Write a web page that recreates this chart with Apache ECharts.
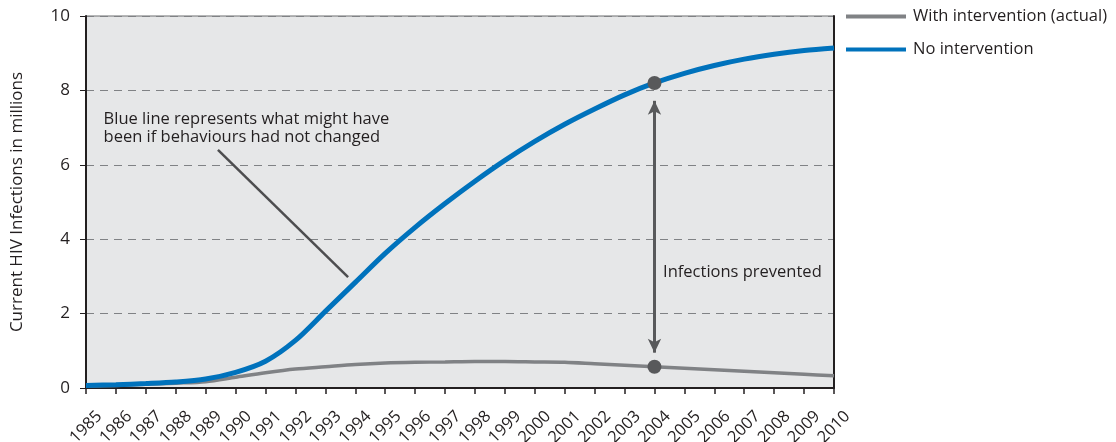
<!DOCTYPE html>
<html><head><meta charset="utf-8">
<script src="https://cdn.jsdelivr.net/npm/echarts@6/dist/echarts.min.js"></script>
<style>html,body{margin:0;padding:0;background:#fff}#c{width:1116px;height:442px}</style>
</head><body><div id="c"></div>
<script>
const years = [1985,1986,1987,1988,1989,1990,1991,1992,1993,1994,1995,1996,1997,1998,1999,2000,2001,2002,2003,2004,2005,2006,2007,2008,2009,2010];
const withIntervention = [0.05,0.07,0.1,0.13,0.17,0.29,0.41,0.51,0.57,0.63,0.67,0.69,0.7,0.71,0.71,0.7,0.69,0.65,0.61,0.57,0.53,0.49,0.45,0.41,0.37,0.33];
const noIntervention = [0.07,0.09,0.12,0.16,0.24,0.42,0.72,1.28,2.06,2.84,3.62,4.32,4.96,5.56,6.12,6.63,7.09,7.5,7.88,8.2,8.46,8.67,8.84,8.97,9.07,9.14];
const yTicks = [0,2,4,6,8,10];
const seriesNames = ['With intervention (actual)','No intervention'];
const noteText = 'Blue line represents what might have\nbeen if behaviours had not changed';
const arrowText = 'Infections prevented';
const arrowYear = 2004;
const leaderFrom = [1989.41, 6.4];
const leaderTo = [1993.76, 2.98];
const arrowEnds = [0.95, 7.72];

const FONT = 'Open Sans';
const ink = '#231f20';
const chart = echarts.init(document.getElementById('c'));
const idx = years.indexOf(arrowYear);
chart.setOption({
  animation: false,
  textStyle: {fontFamily: FONT},
  grid: {left: 86, right: 282, top: 16, bottom: 54, outerBoundsMode: 'none', containLabel: false, show: true, backgroundColor: '#e6e7e8', borderColor: '#6d6e71', borderWidth: 1},
  legend: {
    orient: 'vertical', left: 846, top: 6, itemWidth: 60, itemHeight: 4, itemGap: 12,
    icon: 'rect', padding: [0,0,0,0],
    textStyle: {fontFamily: FONT, fontSize: 16.5, color: ink, lineHeight: 21, padding: [0,0,0,2]},
    data: seriesNames
  },
  xAxis: {
    type: 'value', min: years[0], max: years[years.length-1], interval: 1,
    axisLine: {lineStyle: {color: ink, width: 2}},
    axisTick: {show: true, length: 6, lineStyle: {color: ink, width: 1.5}},
    axisLabel: {rotate: 45, fontSize: 16.5, color: ink, margin: 39, align: 'center', verticalAlign: 'middle', formatter: v => String(v)},
    splitLine: {show: false}
  },
  yAxis: [{
    type: 'value', min: yTicks[0], max: yTicks[yTicks.length-1], interval: 2,
    name: 'Current HIV Infections in millions', nameLocation: 'middle', nameGap: 60,
    nameTextStyle: {fontSize: 17, color: ink},
    axisLine: {show: true, lineStyle: {color: ink, width: 2}},
    axisTick: {show: true, length: 6, lineStyle: {color: ink, width: 1}},
    axisLabel: {fontSize: 17, color: ink, margin: 16},
    splitLine: {show: true, lineStyle: {color: '#808285', type: [8,6], width: 1}}
  },{
    type: 'value', min: yTicks[0], max: yTicks[yTicks.length-1], interval: 2, position: 'right',
    axisLine: {show: true, lineStyle: {color: ink, width: 2}},
    axisTick: {show: false}, axisLabel: {show: false}, splitLine: {show: false}
  }],
  series: [{
    name: seriesNames[0], type: 'line', smooth: 0.3, showSymbol: false,
    data: years.map((y,i) => [y, withIntervention[i]]),
    itemStyle: {color: '#808285'}, lineStyle: {color: '#808285', width: 3.5}, z: 3,
    markPoint: {
      symbol: 'circle', symbolSize: 14, itemStyle: {color: '#58595b'}, label: {show: false},
      data: [{coord: [arrowYear, withIntervention[idx]]}, {coord: [arrowYear, noIntervention[idx]]}]
    }
  },{
    name: seriesNames[1], type: 'line', smooth: 0.3, showSymbol: false,
    data: years.map((y,i) => [y, noIntervention[i]]),
    itemStyle: {color: '#0072bc'}, lineStyle: {color: '#0072bc', width: 5}, z: 4,
    markLine: {
      silent: true, animation: false, label: {show: false},
      data: [
        [{coord: leaderFrom, symbol: 'none', lineStyle: {color: '#4d4d4f', width: 2.5, type: 'solid'}}, {coord: leaderTo, symbol: 'none'}],
        [{coord: [arrowYear, arrowEnds[0]], symbol: 'arrow', symbolSize: [10,14], lineStyle: {color: '#58595b', width: 3, type: 'solid'}}, {coord: [arrowYear, arrowEnds[1]], symbol: 'arrow', symbolSize: [10,14]}]
      ]
    },
    markPoint: {
      symbolSize: 0,
      data: [
        {coord: [1985.42, 6.99], label: {show: true, position: 'right', formatter: noteText, fontSize: 16.5, lineHeight: 18, color: ink, align: 'left', verticalAlign: 'middle'}},
        {coord: [arrowYear + 0.12, 3.12], label: {show: true, position: 'right', formatter: arrowText, fontSize: 16.5, color: ink, align: 'left', verticalAlign: 'middle'}}
      ]
    }
  }]
});
</script></body></html>
